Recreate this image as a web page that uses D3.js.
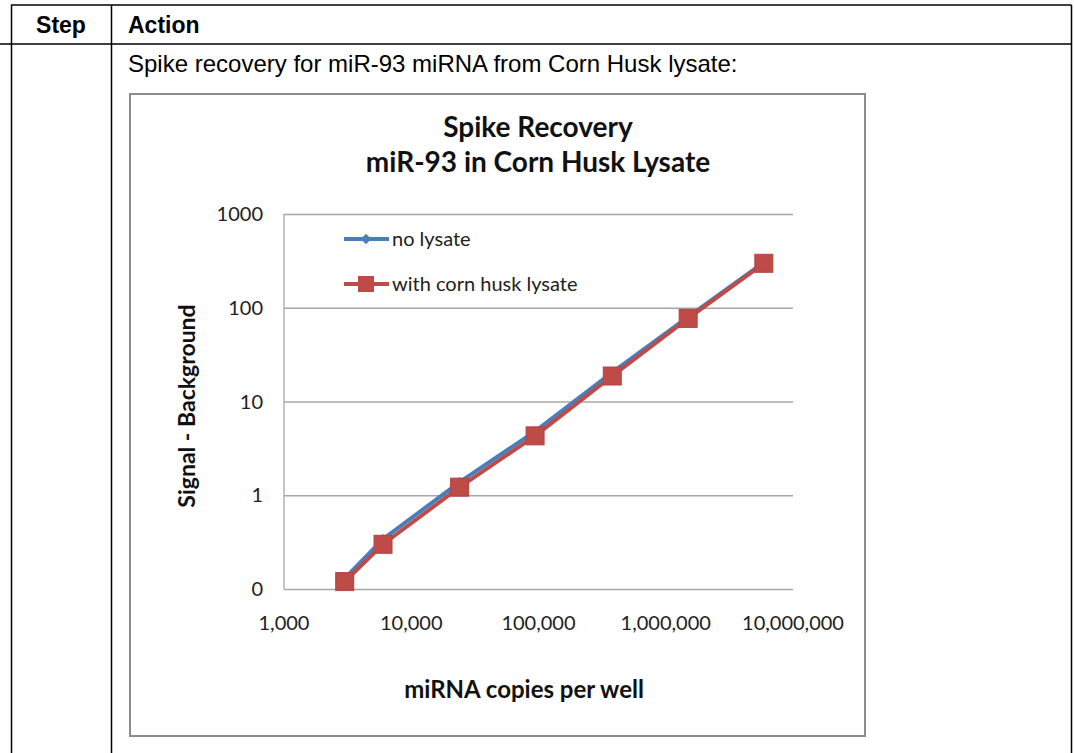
<!DOCTYPE html>
<html>
<head>
<meta charset="utf-8">
<script src="https://cdn.jsdelivr.net/npm/d3@7"></script>
<style>
  body { margin: 0; background: #fff; }
  svg { display: block; }
</style>
</head>
<body>
<script>
// data
const copies     = [3000, 6000, 24000, 94000, 380000, 1500000, 5900000];
const noLysate   = [0.13, 0.34, 1.38, 4.8, 20.5, 80, 305];
const withLysate = [0.12, 0.30, 1.22, 4.3, 18.7, 77, 298];
const seriesNames = ["no lysate", "with corn husk lysate"];
const seriesColors = ["#4a7ebb", "#be4b48"];
const yTicks = [0.1, 1, 10, 100, 1000];
const yTickLabels = ["0", "1", "10", "100", "1000"];
const xTicks = [1e3, 1e4, 1e5, 1e6, 1e7];

const W = 1075, H = 753;
const chartFont = "Lato, 'Open Sans', sans-serif";
const tableFont = "'Liberation Sans', Arial, sans-serif";

var svg = d3.select("body").append("svg")
    .attr("width", W)
    .attr("height", H);

// table around the chart
var tbl = svg.append("g").attr("stroke", "#000").attr("stroke-width", 1.5);
tbl.append("line").attr("x1", 11).attr("x2", 1071.5).attr("y1", 5).attr("y2", 5);
tbl.append("line").attr("x1", 0).attr("x2", 1071.5).attr("y1", 44).attr("y2", 44);
tbl.append("line").attr("x1", 11.5).attr("x2", 11.5).attr("y1", 5).attr("y2", H);
tbl.append("line").attr("x1", 111.5).attr("x2", 111.5).attr("y1", 5).attr("y2", H);
tbl.append("line").attr("x1", 1071.5).attr("x2", 1071.5).attr("y1", 5).attr("y2", H);

svg.append("text").attr("x", 61).attr("y", 33)
  .attr("text-anchor", "middle")
  .style("font", "bold 23px " + tableFont)
  .text("Step");
svg.append("text").attr("x", 128).attr("y", 33)
  .style("font", "bold 23px " + tableFont)
  .text("Action");
svg.append("text").attr("x", 128).attr("y", 72)
  .style("font", "24px " + tableFont)
  .text("Spike recovery for miR-93 miRNA from Corn Husk lysate:");

// chart frame
svg.append("rect")
  .attr("x", 130).attr("y", 94)
  .attr("width", 735).attr("height", 642)
  .attr("fill", "#fff")
  .attr("stroke", "#8c8c8c")
  .attr("stroke-width", 2);

var x = d3.scaleLog().domain([1e3, 1e7]).range([284, 793]);
var y = d3.scaleLog().domain([0.1, 1000]).range([589, 214]);

// gridlines
svg.append("g")
  .attr("transform", "translate(284,0)")
  .call(d3.axisLeft(y).tickValues(yTicks).tickSize(-(793 - 284)).tickFormat(""))
  .call(g => g.select(".domain").remove())
  .call(g => g.selectAll("line").attr("stroke", "#a6a6a6").attr("stroke-width", 1.3));

// left axis line
svg.append("line")
  .attr("x1", 284).attr("x2", 284)
  .attr("y1", y(1000)).attr("y2", y(0.1))
  .attr("stroke", "#a6a6a6").attr("stroke-width", 1.3);

// y tick labels
svg.append("g").selectAll("text")
  .data(yTicks)
  .join("text")
  .attr("x", 263)
  .attr("y", d => y(d))
  .attr("dy", "0.35em")
  .attr("text-anchor", "end")
  .style("font", "20px " + chartFont)
  .attr("fill", "#222")
  .text((d, i) => yTickLabels[i]);

// x tick labels
svg.append("g").selectAll("text")
  .data(xTicks)
  .join("text")
  .attr("x", d => x(d))
  .attr("y", 630)
  .attr("text-anchor", "middle")
  .style("font", "20px " + chartFont)
  .attr("fill", "#222")
  .text(d => d3.format(",")(d));

// titles
svg.append("text").attr("x", 538).attr("y", 137)
  .attr("text-anchor", "middle")
  .style("font", "bold 28px " + chartFont)
  .attr("fill", "#111")
  .text("Spike Recovery");
svg.append("text").attr("x", 538).attr("y", 172)
  .attr("text-anchor", "middle")
  .style("font", "bold 28px " + chartFont)
  .attr("fill", "#111")
  .text("miR-93 in Corn Husk Lysate");

svg.append("text").attr("x", 524).attr("y", 698)
  .attr("text-anchor", "middle")
  .style("font", "bold 24px " + chartFont)
  .attr("fill", "#111")
  .text("miRNA copies per well");

svg.append("text")
  .attr("transform", "translate(195,406) rotate(-90)")
  .attr("text-anchor", "middle")
  .style("font", "bold 23px " + chartFont)
  .attr("fill", "#111")
  .text("Signal - Background");

// series
var line = d3.line()
  .x(d => x(d[0]))
  .y(d => y(d[1]));

var series = [noLysate, withLysate].map((vals, i) => ({
  name: seriesNames[i],
  color: seriesColors[i],
  points: copies.map((c, j) => [c, vals[j]])
}));

series.forEach(function(s, i) {
  svg.append("path")
    .datum(s.points)
    .attr("fill", "none")
    .attr("stroke", s.color)
    .attr("stroke-width", 4)
    .attr("stroke-linejoin", "round")
    .attr("d", line);

  if (i === 0) {
    svg.append("g").selectAll("path")
      .data(s.points)
      .join("path")
      .attr("transform", d => "translate(" + x(d[0]) + "," + y(d[1]) + ")")
      .attr("d", d3.symbol(d3.symbolDiamond2, 70))
      .attr("fill", s.color);
  } else {
    svg.append("g").selectAll("rect")
      .data(s.points)
      .join("rect")
      .attr("x", d => x(d[0]) - 9)
      .attr("y", d => y(d[1]) - 9)
      .attr("width", 18).attr("height", 18)
      .attr("fill", s.color)
      .attr("stroke", "#b04542")
      .attr("stroke-width", 1);
  }
});

// legend
var legend = svg.append("g");
series.forEach(function(s, i) {
  var ly = 239 + i * 45;
  legend.append("line")
    .attr("x1", 344).attr("x2", 389)
    .attr("y1", ly).attr("y2", ly)
    .attr("stroke", s.color).attr("stroke-width", 4);
  if (i === 0) {
    legend.append("path")
      .attr("transform", "translate(366," + ly + ")")
      .attr("d", d3.symbol(d3.symbolDiamond2, 70))
      .attr("fill", s.color);
  } else {
    legend.append("rect")
      .attr("x", 366 - 8).attr("y", ly - 8)
      .attr("width", 16).attr("height", 16)
      .attr("fill", s.color);
  }
  legend.append("text")
    .attr("x", 392).attr("y", ly)
    .attr("dy", "0.35em")
    .style("font", "20px " + chartFont)
    .attr("fill", "#222")
    .text(s.name);
});
</script>
</body>
</html>
